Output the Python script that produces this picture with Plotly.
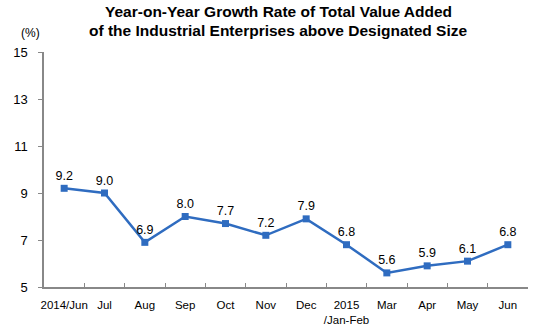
import plotly.graph_objects as go

categories = ["2014/Jun", "Jul", "Aug", "Sep", "Oct", "Nov", "Dec", "2015<br>/Jan-Feb",
              "Mar", "Apr", "May", "Jun"]
values = [9.2, 9.0, 6.9, 8.0, 7.7, 7.2, 7.9, 6.8, 5.6, 5.9, 6.1, 6.8]
labels = ["9.2", "9.0", "6.9", "8.0", "7.7", "7.2", "7.9", "6.8", "5.6", "5.9", "6.1", "6.8"]
y_ticks = [5, 7, 9, 11, 13, 15]

fig = go.Figure(go.Scatter(
    x=categories, y=values, mode="lines+markers+text",
    text=labels, textposition="top center",
    textfont=dict(family="Liberation Sans, Arial", size=12.5, color="#000000"),
    line=dict(color="#2F6CC0", width=2.5),
    marker=dict(symbol="square", size=7, color="#2F6CC0"),
    cliponaxis=False,
))

fig.update_layout(
    width=547, height=331,
    margin=dict(l=44, r=19, t=52, b=44, autoexpand=False),
    paper_bgcolor="white", plot_bgcolor="white",
    showlegend=False,
    font=dict(family="Liberation Sans, Arial", size=12, color="#000000"),
    xaxis=dict(
        type="category", showgrid=False, showline=True, linecolor="#888888", linewidth=1.5,
        ticks="inside", tickson="boundaries", ticklen=4, tickcolor="#888888",
        tickfont=dict(size=11.5), tickangle=0, range=[-0.5, 11.5], ticklabelstandoff=6,
        automargin=False,
    ),
    yaxis=dict(
        range=[5, 15], tickvals=y_ticks, showgrid=False, showline=True,
        linecolor="#888888", linewidth=1.5, ticks="outside", ticklen=4,
        tickcolor="#888888", tickfont=dict(size=13), zeroline=False, ticklabelstandoff=8,
        automargin=False,
    ),
    annotations=[
        dict(text="<b>Year-on-Year Growth Rate of Total Value Added</b>",
             xref="paper", yref="paper", x=(278 - 44) / 484, y=1 + (52 - 12) / 235,
             xanchor="center", yanchor="middle", showarrow=False,
             font=dict(size=15.5, color="#000000")),
        dict(text="<b>of the Industrial Enterprises above Designated Size</b>",
             xref="paper", yref="paper", x=(278 - 44) / 484, y=1 + (52 - 30) / 235,
             xanchor="center", yanchor="middle", showarrow=False,
             font=dict(size=15.5, color="#000000")),
        dict(text="(%)", xref="paper", yref="paper", x=(30 - 44) / 484, y=1 + (52 - 33) / 235,
             xanchor="center", yanchor="middle", showarrow=False,
             font=dict(size=12, color="#000000")),
    ],
)

fig.write_html("out.html")
